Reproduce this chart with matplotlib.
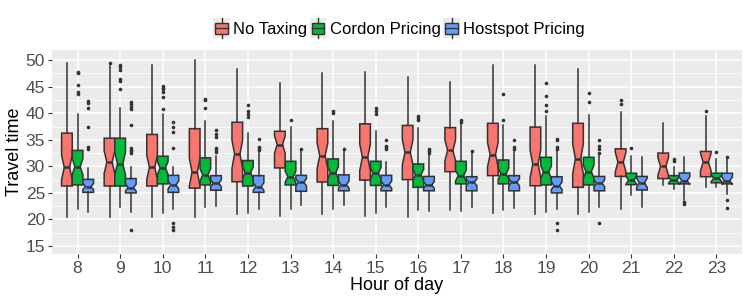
import matplotlib
matplotlib.use("Agg")
import matplotlib.pyplot as plt
import numpy as np
from matplotlib.patches import Rectangle
from matplotlib.lines import Line2D
from matplotlib.legend_handler import HandlerBase

plt.rcParams['font.family'] = ['Liberation Sans', 'DejaVu Sans']

hours = [8, 9, 10, 11, 12, 13, 14, 15, 16, 17, 18, 19, 20, 21, 22, 23]
series_names = ["No Taxing", "Cordon Pricing", "Hostspot Pricing"]
colors = ["#F8766D", "#00BA38", "#619CFF"]

# per series: whisker low, Q1, median, Q3, whisker high
no_tax_lo  = [20.4, 20.4, 20.4, 20.5, 21.1, 20.7, 21.0, 20.7, 20.5, 21.75, 21.2, 21.0, 21.1, 21.9, 26.5, 26.2]
no_tax_q1  = [26.3, 26.3, 26.3, 25.9, 27.1, 29.7, 27.05, 27.4, 27.5, 29.0, 28.25, 26.35, 26.05, 28.1, 27.7, 28.05]
no_tax_med = [29.8, 30.8, 29.8, 28.9, 32.3, 34.1, 32.0, 31.7, 32.65, 33.0, 32.2, 30.45, 31.4, 30.8, 30.0, 30.8]
no_tax_q3  = [36.25, 35.3, 36.0, 37.1, 38.3, 36.6, 37.1, 38.0, 37.7, 37.3, 38.1, 37.4, 38.1, 33.3, 32.5, 32.8]
no_tax_hi  = [49.5, 48.9, 49.05, 50.0, 48.4, 45.6, 47.5, 47.7, 46.85, 45.9, 49.05, 49.05, 48.4, 40.2, 38.1, 39.4]
no_tax_out = [[], [49.4], [], [], [], [], [], [], [], [], [], [], [], [42.4, 41.7], [], [40.5]]

cordon_lo  = [21.9, 22.3, 21.3, 22.4, 21.3, 21.9, 21.9, 21.3, 21.75, 21.6, 21.75, 21.5, 21.5, 24.65, 25.7, 26.05]
cordon_q1  = [26.5, 26.3, 26.7, 26.5, 26.3, 26.5, 26.4, 26.4, 26.05, 26.7, 26.7, 26.5, 26.5, 26.55, 26.7, 26.9]
cordon_med = [29.95, 30.5, 29.7, 28.4, 28.8, 28.05, 28.8, 28.7, 28.4, 28.25, 28.6, 28.9, 29.0, 27.4, 27.4, 27.75]
cordon_q3  = [33.0, 35.3, 31.9, 31.6, 31.1, 30.95, 31.4, 30.95, 30.45, 30.95, 31.2, 31.7, 31.7, 28.7, 28.25, 28.7]
cordon_hi  = [39.8, 41.0, 39.8, 38.5, 36.25, 37.5, 38.5, 36.6, 37.3, 38.0, 37.7, 39.4, 39.6, 32.0, 29.8, 31.4]
cordon_out = [[47.7, 47.5, 45.3, 44.0, 43.7],
              [49.05, 48.7, 48.2, 46.5, 46.1, 44.6],
              [45.1, 44.8, 44.5, 44.0, 43.1, 40.7],
              [42.75, 42.4, 40.9],
              [41.6, 40.4, 39.9, 39.3],
              [38.8], [40.4, 40.0], [40.9, 40.4, 39.8], [39.4, 39.1, 38.65],
              [38.65, 38.3], [43.6, 38.8], [45.7, 43.2, 41.5, 40.5], [43.8, 42.1],
              [33.4], [31.4, 30.95], [32.65]]

hot_lo  = [21.4, 21.5, 21.9, 22.6, 21.9, 22.7, 22.7, 22.4, 21.6, 22.4, 22.1, 21.9, 22.4, 22.4, 23.65, 24.8]
hot_q1  = [25.1, 25.0, 25.1, 25.5, 25.1, 25.3, 25.4, 25.4, 25.4, 25.4, 25.4, 25.0, 25.4, 25.55, 26.7, 26.7]
hot_med = [26.2, 26.0, 26.5, 26.8, 26.2, 27.0, 26.55, 26.55, 26.5, 27.0, 27.0, 26.35, 26.8, 26.9, 27.3, 27.3]
hot_q3  = [27.55, 27.7, 28.3, 28.25, 28.25, 28.3, 28.4, 28.3, 28.1, 28.05, 28.25, 28.05, 28.1, 28.1, 28.75, 28.7]
hot_hi  = [29.6, 29.8, 29.95, 32.0, 33.0, 33.0, 33.0, 30.9, 33.0, 32.6, 33.0, 33.0, 32.4, 31.8, 31.7, 31.4]
hot_out = [[42.3, 41.9, 41.0, 37.5, 33.7, 33.3],
           [42.2, 41.8, 41.2, 40.7, 37.7, 33.5, 33.1, 32.8, 32.5, 18.0],
           [38.3, 37.5, 36.4, 33.5, 19.4, 18.5, 18.0],
           [36.75, 36.1, 35.5, 33.5, 33.0, 32.7],
           [35.2, 33.6, 33.3, 33.0],
           [33.3], [33.3], [35.0, 33.9, 33.6, 33.2], [33.2, 32.9, 32.6],
           [32.8], [34.9, 33.6, 33.2], [35.2, 35.0, 33.6, 33.3, 19.4, 18.0],
           [34.9, 33.9, 33.3, 32.6, 19.4],
           [], [23.2, 22.9], [31.7, 23.65, 22.25]]

# estimated sample size per hour (drives notch size)
n_obs = [45, 45, 45, 45, 45, 45, 45, 45, 45, 45, 45, 45, 45, 20, 20, 20]

series = [
    (no_tax_lo, no_tax_q1, no_tax_med, no_tax_q3, no_tax_hi, no_tax_out),
    (cordon_lo, cordon_q1, cordon_med, cordon_q3, cordon_hi, cordon_out),
    (hot_lo, hot_q1, hot_med, hot_q3, hot_hi, hot_out),
]

fig = plt.figure(figsize=(7.47, 2.99), dpi=100)
ax = fig.add_axes([52 / 747, 1 - 254 / 299, (742 - 52) / 747, (254 - 50) / 299])
ax.set_facecolor("#EBEBEB")

edge = "#333333"
bw = 0.25
positions = np.arange(1, len(hours) + 1)
for si, (lo, q1, med, q3, hi, out) in enumerate(series):
    stats = []
    for i in range(len(hours)):
        iqr = q3[i] - q1[i]
        half = 1.58 * iqr / np.sqrt(n_obs[i])
        stats.append(dict(med=med[i], q1=q1[i], q3=q3[i], whislo=lo[i], whishi=hi[i],
                          fliers=out[i], cilo=med[i] - half, cihi=med[i] + half))
    ax.bxp(stats, positions=positions + (si - 1) * bw, widths=bw, shownotches=True,
           patch_artist=True, showcaps=False, manage_ticks=False,
           boxprops=dict(facecolor=colors[si], edgecolor=edge, linewidth=1.1),
           medianprops=dict(color=edge, linewidth=1.8),
           whiskerprops=dict(color=edge, linewidth=1.1),
           flierprops=dict(marker='o', markersize=2.6, markerfacecolor=edge,
                           markeredgecolor=edge, markeredgewidth=0, linestyle='none'),
           zorder=3)

ax.set_xlim(0.4, len(hours) + 0.6)
ax.set_ylim(13.5, 51.9)
ax.set_yticks([15, 20, 25, 30, 35, 40, 45, 50])
ax.set_yticks([17.5, 22.5, 27.5, 32.5, 37.5, 42.5, 47.5], minor=True)
ax.set_xticks(positions)
ax.set_xticklabels([str(h) for h in hours])
ax.grid(which='major', color='white', linewidth=1.1, zorder=0)
ax.grid(which='minor', axis='y', color='white', linewidth=0.5, zorder=0)
ax.set_axisbelow(True)
for s in ax.spines.values():
    s.set_visible(False)
ax.tick_params(axis='both', which='major', length=3, width=0.8, color=edge,
               labelsize=12.5, labelcolor='#4D4D4D', pad=2)
ax.tick_params(which='minor', length=0)
ax.set_xlabel("Hour of day", fontsize=13, labelpad=1)
ax.set_ylabel("Travel time", fontsize=13, labelpad=2)


class BoxHandler(HandlerBase):
    def create_artists(self, legend, orig_handle, xdescent, ydescent, width, height, fontsize, trans):
        col = orig_handle.get_facecolor()
        bg = Rectangle((-xdescent, -ydescent - 2), width, height + 4, facecolor="#EBEBEB",
                       edgecolor='none', transform=trans)
        cx = -xdescent + width / 2
        box = Rectangle((-xdescent + 1.5, -ydescent + height * 0.1), width - 3, height * 0.8,
                        facecolor=col, edgecolor=edge, linewidth=1.0, transform=trans)
        med = Line2D([-xdescent + 1.5, -xdescent + width - 1.5],
                     [-ydescent + height / 2] * 2, color=edge, linewidth=1.0, transform=trans)
        w1 = Line2D([cx, cx], [-ydescent - 2, -ydescent + height * 0.1], color=edge,
                    linewidth=1.0, transform=trans)
        w2 = Line2D([cx, cx], [-ydescent + height * 0.9, -ydescent + height + 2], color=edge,
                    linewidth=1.0, transform=trans)
        return [bg, box, med, w1, w2]


handles = [Rectangle((0, 0), 1, 1, facecolor=c) for c in colors]
leg = fig.legend(handles, series_names, loc='center', bbox_to_anchor=(399 / 747, 1 - 29 / 299),
                 ncol=3, frameon=False, fontsize=12, handlelength=1.0, handleheight=0.9,
                 handletextpad=0.2, columnspacing=0.15, borderaxespad=0,
                 handler_map={Rectangle: BoxHandler()})

fig.savefig("out.png", dpi=100)
